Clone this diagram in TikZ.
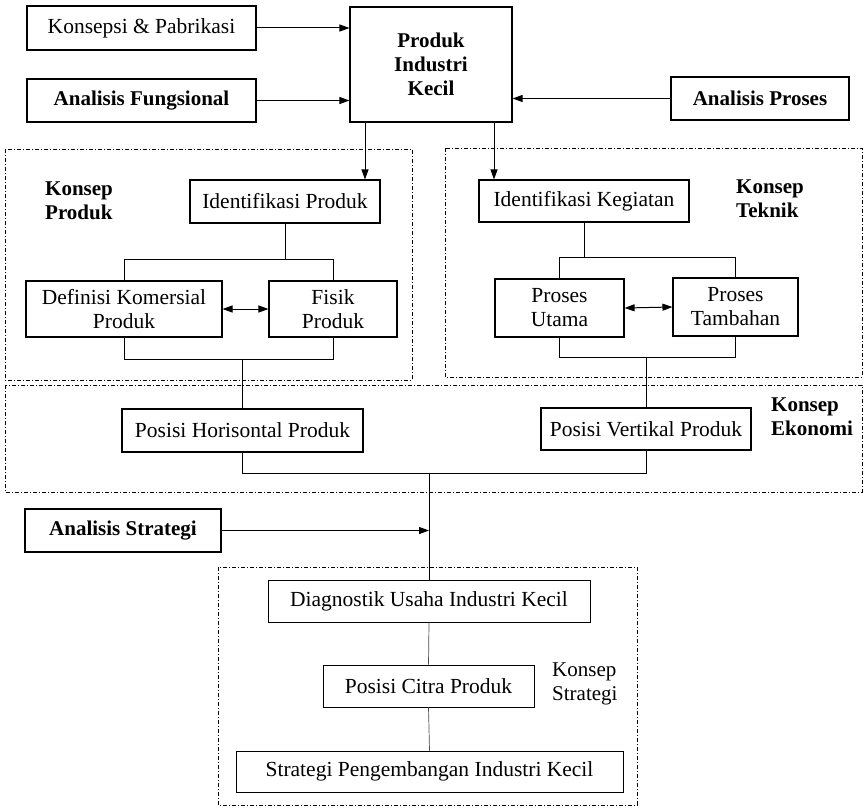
\documentclass[tikz,border=0pt]{standalone}
\usepackage{fontspec}
\setmainfont{Liberation Serif}
\usetikzlibrary{arrows.meta}
\tikzset{
  kotak/.style={draw, line width=1.1pt, align=center, inner sep=2pt, font=\fontsize{21.5}{24}\selectfont},
  tebal/.style={kotak, font=\fontsize{21}{24}\selectfont\bfseries},
  judul/.style={align=left, anchor=west, inner sep=0pt, font=\fontsize{21}{24}\selectfont\bfseries},
  batas/.style={draw, line width=0.9pt, dash pattern=on 4pt off 2pt on 1pt off 2pt},
  panah/.style={-{Triangle[length=10pt,width=7pt]}, line width=1pt},
  dua/.style={{Triangle[length=10pt,width=7pt]}-{Triangle[length=10pt,width=7pt]}, line width=1pt},
  garis/.style={line width=1pt},
  tipis/.style={line width=0.7pt, black!70}
}
\begin{document}
\begin{tikzpicture}[x=1pt,y=-1pt]
\useasboundingbox (0,0) rectangle (866,808);
\draw[batas] (5,149) rectangle (412,380);
\draw[batas] (445,148) rectangle (862,377);
\draw[batas] (5,385) rectangle (862,492);
\draw[batas] (218,567) rectangle (637,805);
\node[kotak, minimum width=229pt, minimum height=44pt] (kp) at (141.5,28) {Konsepsi \& Pabrikasi};
\node[tebal, minimum width=229pt, minimum height=43pt] (af) at (141.5,100.5) {Analisis Fungsional};
\node[tebal, minimum width=162pt, minimum height=115pt] (pik) at (431,64.5) {Produk\\Industri\\Kecil};
\node[tebal, minimum width=178pt, minimum height=43pt] (ap) at (760,98.5) {Analisis Proses};
\node[kotak, minimum width=190pt, minimum height=43pt] (ip) at (285,201.5) {Identifikasi Produk};
\node[kotak, minimum width=210pt, minimum height=42pt] (ik) at (584,201) {Identifikasi Kegiatan};
\node[kotak, minimum width=196pt, minimum height=56pt] (dk) at (124,309) {Definisi Komersial\\Produk};
\node[kotak, minimum width=128pt, minimum height=56pt] (fp) at (333,309) {Fisik\\Produk};
\node[kotak, minimum width=129pt, minimum height=58pt] (pu) at (559.5,308) {Proses\\Utama};
\node[kotak, minimum width=125pt, minimum height=58pt] (pt) at (735.5,307) {Proses\\Tambahan};
\node[kotak, minimum width=241pt, minimum height=43pt] (pho) at (242.5,430.5) {Posisi Horisontal Produk};
\node[kotak, minimum width=210pt, minimum height=42pt] (pvp) at (646,429) {Posisi Vertikal Produk};
\node[tebal, minimum width=196pt, minimum height=43pt] (as) at (123,530.5) {Analisis Strategi};
\node[kotak, line width=0.8pt, minimum width=322pt, minimum height=42pt] (du) at (429,601) {Diagnostik Usaha Industri Kecil};
\node[kotak, line width=0.8pt, minimum width=211pt, minimum height=42pt] (pc) at (428.5,686) {Posisi Citra Produk};
\node[kotak, line width=0.8pt, minimum width=387pt, minimum height=41pt] (sp) at (429.5,771.5) {Strategi Pengembangan Industri Kecil};
\node[judul] (jp) at (45,201) {Konsep\\Produk};
\node[judul] (jt) at (736,199) {Konsep\\Teknik};
\node[judul] (je) at (771,417) {Konsep\\Ekonomi};
\node[judul, font=\fontsize{21}{24}\selectfont] (js) at (552,684) {Konsep\\Strategi};
\draw[panah] (kp.east) -- (kp.east -| pik.west);
\draw[panah] (af.east) -- (af.east -| pik.west);
\draw[panah] (ap.west) -- (ap.west -| pik.east);
\draw[panah] ([xshift=-66pt]pik.south) -- ([xshift=-66pt]pik.south |- ip.north);
\draw[panah] ([xshift=63pt]pik.south) -- ([xshift=63pt]pik.south |- ik.north);
\coordinate (atasP) at ([yshift=-36pt]ip.south);
\coordinate (bawahP) at ([yshift=-22pt]dk.south);
\draw[garis] (ip.south) -- (atasP);
\draw[garis] (dk.north) |- (atasP) -| (fp.north);
\draw[garis] (dk.south) -- (bawahP) -| (fp.south);
\draw[garis] (pho.north) -- (pho.north |- bawahP);
\draw[dua] (dk.east) -- (fp.west);
\coordinate (atasT) at ([yshift=-35pt]ik.south);
\coordinate (bawahT) at ([yshift=-20pt]pu.south);
\draw[garis] (ik.south) -- (atasT);
\draw[garis] (pu.north) |- (atasT) -| (pt.north);
\draw[garis] (pu.south) -- (bawahT) -| (pt.south);
\draw[garis] (pvp.north) -- (pvp.north |- bawahT);
\draw[dua] (pu.east) -- (pt.west);
\coordinate (bawahE) at ([yshift=-21pt]pho.south);
\draw[garis] (pho.south) -- (bawahE) -| (pvp.south);
\draw[garis] (du.north) -- (du.north |- bawahE);
\draw[panah] (as.east) -- (as.east -| du.north);
\draw[tipis] (du.south) -- (pc.north);
\draw[tipis] (pc.south) -- (sp.north);
\end{tikzpicture}
\end{document}
